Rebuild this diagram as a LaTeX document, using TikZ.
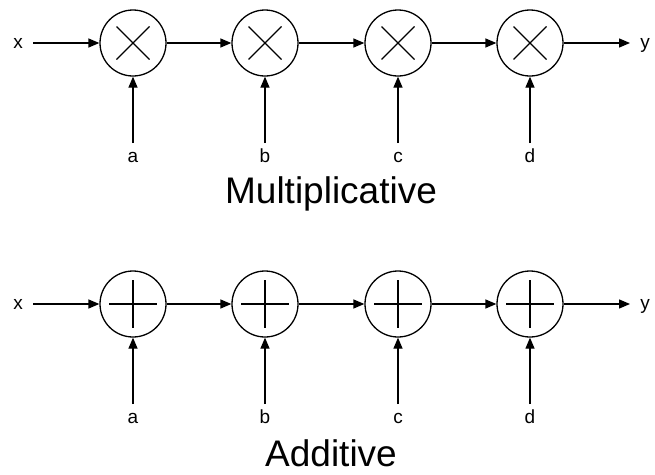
\documentclass[tikz,border=0pt]{standalone}
\usepackage{fontspec}
\setmainfont{Liberation Sans}
\usetikzlibrary{arrows.meta,calc}
\begin{document}
\begin{tikzpicture}[x=1pt,y=-1pt,
  op/.style={draw,circle,line width=1.3pt,minimum size=66pt,inner sep=0pt},
  conn/.style={line width=1.3pt,-{Triangle[length=11pt,width=9pt]}},
  lbl/.style={font=\fontsize{19}{19}\selectfont,inner sep=0pt,anchor=base},
  title/.style={font=\fontsize{37}{37}\selectfont,inner sep=0pt,anchor=base}]
\useasboundingbox (0,0) rectangle (655,474);
% Multiplicative row
\foreach \n/\xx/\l in {1/133/a,2/265/b,3/398/c,4/530/d}{
  \node[op] (m\n) at (\xx,43) {};
  \draw[line width=1.3pt] ($(m\n)+(-16.5,-16.5)$) -- ($(m\n)+(16.5,16.5)$)
        ($(m\n)+(-16.5,16.5)$) -- ($(m\n)+(16.5,-16.5)$);
  \node[lbl] (ml\n) at (\xx,162) {\l};
  \coordinate (ms\n) at (\xx,143);
  \draw[conn] (ms\n) -- (m\n.south);
}
\node[lbl] (mx) at (18,48) {x};
\node[lbl] (my) at (645,48) {y};
\coordinate (mxs) at (33,43);
\coordinate (mye) at (630,43);
\draw[conn] (mxs) -- (m1.west);
\draw[conn] (m1.east) -- (m2.west);
\draw[conn] (m2.east) -- (m3.west);
\draw[conn] (m3.east) -- (m4.west);
\draw[conn] (m4.east) -- (mye);
\node[title] (mt) at (331,203) {Multiplicative};
% Additive row
\foreach \n/\xx/\l in {1/133/a,2/265/b,3/398/c,4/530/d}{
  \node[op] (a\n) at (\xx,304) {};
  \draw[line width=1.3pt] ($(a\n)+(-24,0)$) -- ($(a\n)+(24,0)$)
        ($(a\n)+(0,-24)$) -- ($(a\n)+(0,24)$);
  \node[lbl] (al\n) at (\xx,423) {\l};
  \coordinate (as\n) at (\xx,404);
  \draw[conn] (as\n) -- (a\n.south);
}
\node[lbl] (ax) at (18,309) {x};
\node[lbl] (ay) at (645,309) {y};
\coordinate (axs) at (33,304);
\coordinate (aye) at (630,304);
\draw[conn] (axs) -- (a1.west);
\draw[conn] (a1.east) -- (a2.west);
\draw[conn] (a2.east) -- (a3.west);
\draw[conn] (a3.east) -- (a4.west);
\draw[conn] (a4.east) -- (aye);
\node[title] (at) at (331,466) {Additive};
\end{tikzpicture}
\end{document}
